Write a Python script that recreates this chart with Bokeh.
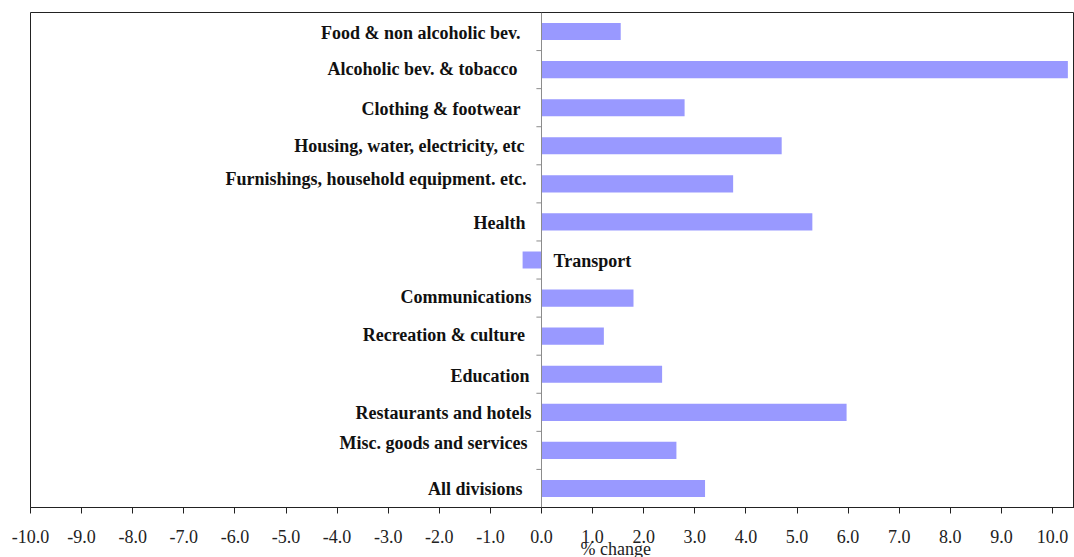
from bokeh.plotting import figure
from bokeh.models import Range1d, Span, FixedTicker, NumeralTickFormatter, ColumnDataSource, Title
from bokeh.core.properties import value
from bokeh.embed import file_html
from bokeh.resources import INLINE

# ---- data (top to bottom) ----
categories = [
    "Food & non alcoholic bev.",
    "Alcoholic bev. & tobacco",
    "Clothing & footwear",
    "Housing, water, electricity, etc",
    "Furnishings, household equipment. etc.",
    "Health",
    "Transport",
    "Communications",
    "Recreation  & culture",
    "Education",
    "Restaurants and hotels",
    "Misc. goods and services",
    "All divisions",
]
pct_change = [1.55, 10.3, 2.8, 4.7, 3.75, 5.3, -0.37, 1.8, 1.22, 2.36, 5.97, 2.64, 3.2]
x_ticks = [-10, -9, -8, -7, -6, -5, -4, -3, -2, -1, 0, 1, 2, 3, 4, 5, 6, 7, 8, 9, 10]
x_title = "% change"

# layout tweaks for category labels (pixels)
label_gap = [21, 24, 21, 17, 15, 16, 12, 10, 12, 12, 10, 14, 19]
label_dy = [1, -1, 1, 0, -5, 1, 1, -1, -1, 2, 1, -7, 1]

n = len(categories)
ypos = [n - i for i in range(n)]

FONT = "Liberation Serif"

p = figure(width=1074, height=557, output_backend="svg", toolbar_location=None,
           x_range=Range1d(-10, 10.43), y_range=Range1d(0.5, n + 0.5),
           y_axis_location=None,
           min_border_left=30, min_border_right=0, min_border_top=12, min_border_bottom=50)
p.xgrid.visible = False
p.ygrid.visible = False
p.background_fill_color = "white"
p.border_fill_color = "white"
p.outline_line_color = "#222222"
p.outline_line_width = 1

# bars
src = ColumnDataSource(dict(y=ypos, v=pct_change, cat=categories))
p.hbar(y="y", left=0, right="v", height=0.45, source=src,
       fill_color="#9999FF", line_color=None)

# vertical zero axis with tick marks between categories
p.add_layout(Span(location=0, dimension="height", line_color="#8c8c8c", line_width=1))
bounds = [k + 0.5 for k in range(1, n)]
p.segment(x0=[-0.1] * len(bounds), x1=[0] * len(bounds), y0=bounds, y1=bounds,
          line_color="#8c8c8c", line_width=1)

# category labels
pos_idx = [i for i in range(n) if pct_change[i] >= 0]
neg_idx = [i for i in range(n) if pct_change[i] < 0]
p.text(x=[0] * len(pos_idx), y=[ypos[i] for i in pos_idx], text=[categories[i] for i in pos_idx],
       x_offset=[-label_gap[i] for i in pos_idx], y_offset=[label_dy[i] for i in pos_idx],
       text_align="right", text_baseline="middle", text_font=value(FONT),
       text_font_style="bold", text_font_size="18px", text_color="#111111")
p.text(x=[0] * len(neg_idx), y=[ypos[i] for i in neg_idx], text=[categories[i] for i in neg_idx],
       x_offset=[label_gap[i] for i in neg_idx], y_offset=[label_dy[i] for i in neg_idx],
       text_align="left", text_baseline="middle", text_font=value(FONT),
       text_font_style="bold", text_font_size="18px", text_color="#111111")

# x axis
ax = p.xaxis[0]
ax.ticker = FixedTicker(ticks=x_ticks)
ax.formatter = NumeralTickFormatter(format="0.0")
ax.major_tick_out = 6
ax.major_tick_in = 0
ax.minor_tick_out = 0
ax.minor_tick_in = 0
ax.axis_line_color = "#222222"
ax.major_tick_line_color = "#222222"
ax.major_label_standoff = 16
ax.major_label_text_font = FONT
ax.major_label_text_font_size = "18px"
ax.major_label_text_color = "#222222"

# axis title, placed under the 1.0 - 2.0 ticks as in the original
p.add_layout(Title(text=x_title, align="left", offset=550, standoff=-18,
                   text_font=FONT, text_font_size="18px", text_font_style="normal",
                   text_color="#222222"), "below")

open("out.html", "w").write(file_html(p, INLINE))
